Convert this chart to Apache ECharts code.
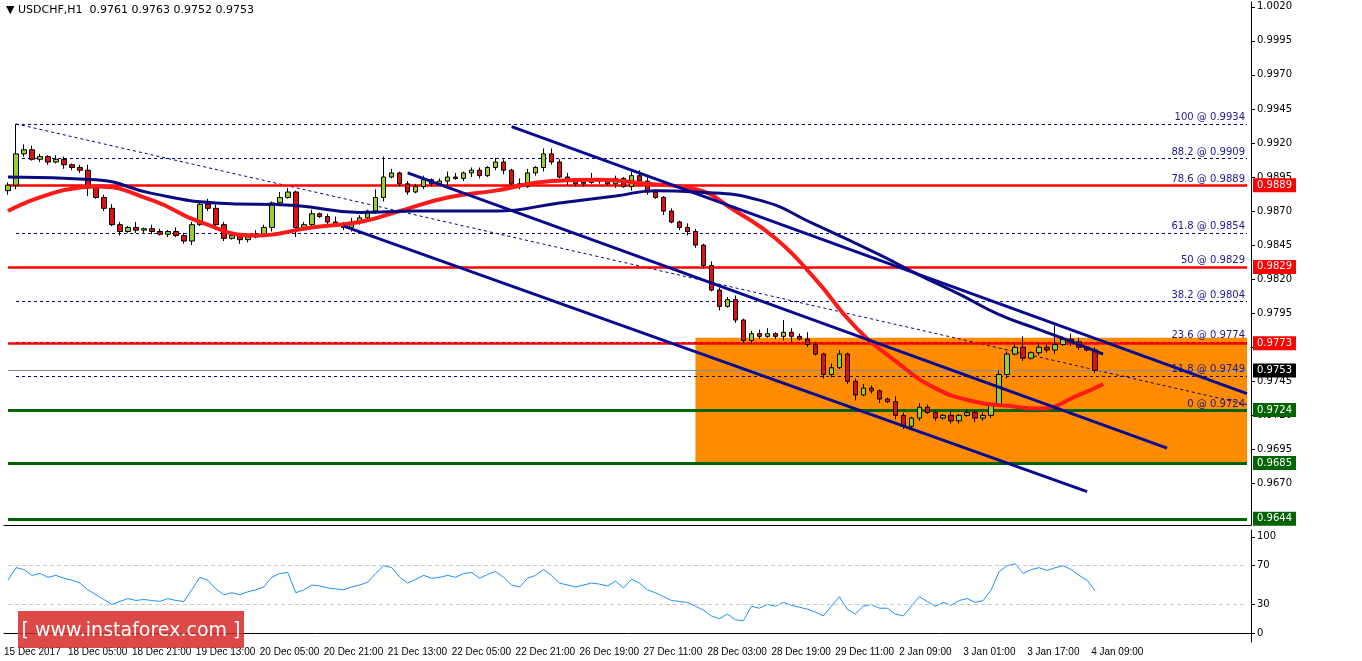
<!DOCTYPE html>
<html><head><meta charset="utf-8">
<script src="https://cdn.jsdelivr.net/npm/echarts@6/dist/echarts.min.js"></script>
<style>html,body{margin:0;padding:0;background:#fff}#c{width:1362px;height:661px}
#t{position:absolute;left:6px;top:3px;font:11px "DejaVu Sans",sans-serif;color:#000}
#w{position:absolute;left:18px;top:611px;width:226px;height:37px;background:rgba(215,40,40,0.85);color:#fff;font:19px "DejaVu Sans",sans-serif;line-height:37px;text-align:center}</style>
</head><body><div id="c"></div>
<div id="t">&#9660; USDCHF,H1&nbsp; 0.9761 0.9763 0.9752 0.9753</div>
<div id="w">[ www.instaforex.com ]</div>
<script>
const tickLabels=['15 Dec 2017','18 Dec 05:00','18 Dec 21:00','19 Dec 13:00','20 Dec 05:00','20 Dec 21:00','21 Dec 13:00','22 Dec 05:00','22 Dec 21:00','26 Dec 19:00','27 Dec 11:00','28 Dec 03:00','28 Dec 19:00','29 Dec 11:00','2 Jan 09:00','3 Jan 01:00','3 Jan 17:00','4 Jan 09:00'];
const closes=[0.9889,0.9912,0.9915,0.9908,0.9910,0.9906,0.9908,0.9904,0.9902,0.9900,
0.9888,0.9880,0.9872,0.9860,0.9855,0.9858,0.9856,0.9857,0.9855,0.9853,
0.9855,0.9852,0.9848,0.9860,0.9875,0.9872,0.9860,0.9850,0.9852,0.9849,
0.9851,0.9853,0.9858,0.9876,0.9880,0.9884,0.9858,0.9860,0.9868,0.9866,
0.9862,0.9860,0.9858,0.9862,0.9865,0.9870,0.9880,0.9895,0.9898,0.9890,
0.9884,0.9888,0.9893,0.9890,0.9892,0.9895,0.9894,0.9898,0.9900,0.9896,
0.9902,0.9906,0.9900,0.9890,0.9888,0.9898,0.9902,0.9912,0.9906,0.9895,
0.9892,0.9890,0.9891,0.9893,0.9892,0.9890,0.9894,0.9888,0.9896,0.9892,
0.9884,0.9880,0.9870,0.9862,0.9858,0.9855,0.9845,0.9830,0.9812,0.9800,
0.9805,0.9790,0.9775,0.9780,0.9778,0.9780,0.9778,0.9781,0.9778,0.9776,
0.9772,0.9765,0.9750,0.9755,0.9765,0.9745,0.9735,0.9740,0.9738,0.9732,
0.9730,0.9720,0.9712,0.9718,0.9726,0.9722,0.9718,0.9720,0.9716,0.9720,
0.9722,0.9718,0.9720,0.9728,0.9750,0.9765,0.9770,0.9762,0.9766,0.9770,
0.9768,0.9772,0.9776,0.9774,0.9770,0.9768,0.9753];
const highs={1:0.9934,47:0.9910,67:0.9916,97:0.9790,131:0.9786};
const wickUp="2943213212412321413213221432122321431231242321643122312431221321431242312512213432121321322312341232521331232114213221312221322813212431221";
const wickDn="3321221322712131222121231242132123217221312321231221221312321231212321322121313221312322131222212341213212412313232121221322131212231321221";
const rsi=[55,68,66,60,62,58,60,57,55,52,45,40,35,30,33,36,34,35,34,33,36,34,33,45,58,55,46,40,42,40,
43,45,48,58,62,63,42,45,50,49,47,46,45,48,50,53,62,70,68,58,52,56,60,57,58,60,58,62,63,57,
61,64,58,50,48,57,60,66,60,52,50,48,50,52,51,49,54,47,56,52,45,42,38,34,33,32,28,24,18,15,
20,14,13,28,26,30,28,32,29,27,25,22,18,28,38,25,20,28,30,26,26,20,18,28,38,33,28,32,29,34,
36,32,34,45,64,70,72,62,66,68,65,68,70,66,60,55,44];
const redMA=[[0,0.9870],[11,0.9888],[18,0.9878],[24,0.9862],[31,0.9852],[38,0.9858],[44,0.9862],[49,0.9870],[55,0.9880],[61,0.9885],[68,0.9892],[74,0.9893],[80,0.9890],[86,0.9886],[91,0.9870],[96,0.9850],[101,0.9820],[106,0.9785],[111,0.9760],[116,0.9740],[121,0.9730],[125,0.9727],[129,0.9725],[134,0.9735],[137,0.9743]];
const blueMA=[[0,0.9895],[11,0.9893],[18,0.9883],[26,0.9876],[36,0.9874],[44,0.9869],[51,0.9870],[61,0.9870],[69,0.9876],[76,0.9881],[81,0.9885],[86,0.9884],[94,0.9878],[101,0.9860],[109,0.9838],[114,0.9823],[119,0.9809],[124,0.9794],[129,0.9783],[134,0.9772],[137,0.9765]];
const fibLevels=[['100',0.9934],['88.2',0.9909],['78.6',0.9889],['61.8',0.9854],['50',0.9829],['38.2',0.9804],['23.6',0.9774],['11.8',0.9749],['0',0.9724]];
const redLevels=[0.9889,0.9829,0.9773];
const greenLevels=[0.9724,0.9685,0.9644];
const lastPrice=0.9753;
const channels=[[[63,0.9932],[155,0.9736]],[[50,0.9898],[145,0.9696]],[[42,0.9859],[135,0.9664]]];
const fibDiag=[[1,0.9934],[155,0.9728]];
const zone=[[86,0.9777],[155,0.9685]];
const priceTicks=[0.9670,0.9695,0.9720,0.9745,0.9770,0.9795,0.9820,0.9845,0.9870,0.9895,0.9920,0.9945,0.9970,0.9995,1.0020];
const rsiTicks=[0,30,70,100];

const N=156;
const cats=[];for(let i=0;i<N;i++){const k=i/8;cats.push(Number.isInteger(k)&&k<tickLabels.length?tickLabels[k]:'');}
const ohlc=closes.map((c,i)=>{const o=i?closes[i-1]:0.9885;const h=highs[i]!==undefined?highs[i]:Math.max(o,c)+(+wickUp[i])*0.0001;const l=Math.min(o,c)-(+wickDn[i])*0.0001;return [o,c,l,h];});
const lab={fontFamily:'DejaVu Sans',fontSize:10,color:'#000'};
const ml=[];
fibLevels.forEach(([p,v])=>ml.push([{coord:[1,v],lineStyle:{color:'#00008B',type:[3,3],width:1},label:{show:true,position:'insideEndTop',formatter:p+' @ '+v.toFixed(4),color:'#1a1a8c',fontSize:10,fontFamily:'DejaVu Sans',distance:[2,1]}},{coord:[155,v]}]));
const lines=[];
function lvl(v,col,w,bg){lines.push([{coord:[0,v],lineStyle:{color:col,width:w,type:'solid'},label:{show:true,position:'end',formatter:v.toFixed(4),backgroundColor:bg,color:'#fff',padding:[2,4],fontSize:10,fontFamily:'DejaVu Sans',distance:6}},{coord:[155,v]}]);}
redLevels.forEach(v=>lvl(v,'#ff0000',2.5,'#ff0000'));
greenLevels.forEach(v=>lvl(v,'#006400',3,'#006400'));
lvl(lastPrice,'#8090a0',1,'#000');
const chart=echarts.init(document.getElementById('c'));
chart.setOption({animation:false,
grid:[{left:4,right:111,top:2,height:523},{left:4,right:111,top:530,height:112}],
xAxis:[{type:'category',data:cats,gridIndex:0,axisLabel:{show:false},axisTick:{show:false},axisLine:{lineStyle:{color:'#000'}}},
{type:'category',data:cats,gridIndex:1,axisLine:{lineStyle:{color:'#000'}},axisTick:{show:false},axisLabel:{interval:0,fontFamily:'Liberation Sans',fontSize:10,color:'#000',margin:5,align:'left',padding:[0,0,0,-4]}}],
yAxis:[{type:'value',gridIndex:0,position:'right',min:0.96395,max:1.00235,splitLine:{show:false},axisLine:{show:true,lineStyle:{color:'#000'}},axisTick:{show:true,customValues:priceTicks,length:4},axisLabel:{...lab,customValues:priceTicks,formatter:v=>v.toFixed(4),margin:6}},
{type:'value',gridIndex:1,position:'right',min:-9,max:107,splitLine:{show:false},axisLine:{show:true,lineStyle:{color:'#000'}},axisTick:{show:true,customValues:rsiTicks,length:4},axisLabel:{...lab,customValues:rsiTicks,margin:6}}],
series:[
{type:'line',data:[],z:1,markArea:{silent:true,itemStyle:{color:'#FF8C00',opacity:1},data:[[{coord:zone[0]},{coord:zone[1]}]]}},
{type:'line',data:[],z:2,markLine:{silent:true,symbol:'none',data:ml}},
{type:'line',data:[],z:3,markLine:{silent:true,symbol:'none',data:lines}},
{type:'line',data:fibDiag,z:3,symbol:'none',lineStyle:{color:'#00008B',width:1,type:[3,3]}},
{type:'candlestick',data:ohlc,z:5,barWidth:5,itemStyle:{color:'#9ACD32',color0:'#E01010',borderColor:'#000',borderColor0:'#000',borderWidth:1}},
{type:'line',data:redMA,smooth:true,symbol:'none',z:6,lineStyle:{color:'#ff1a1a',width:4}},
{type:'line',data:blueMA,smooth:true,symbol:'none',z:6,lineStyle:{color:'#0a0a80',width:3}},
...channels.map(c=>({type:'line',data:c,symbol:'none',z:7,lineStyle:{color:'#0a0a90',width:3}})),
{type:'line',xAxisIndex:1,yAxisIndex:1,data:rsi,symbol:'none',lineStyle:{color:'#1e90ff',width:1},
 markLine:{silent:true,symbol:'none',data:[[{coord:[0,70]},{coord:[155,70]}],[{coord:[0,30]},{coord:[155,30]}]],lineStyle:{color:'#c8c8c8',type:[4,3],width:1},label:{show:false}}}
]});
</script></body></html>
